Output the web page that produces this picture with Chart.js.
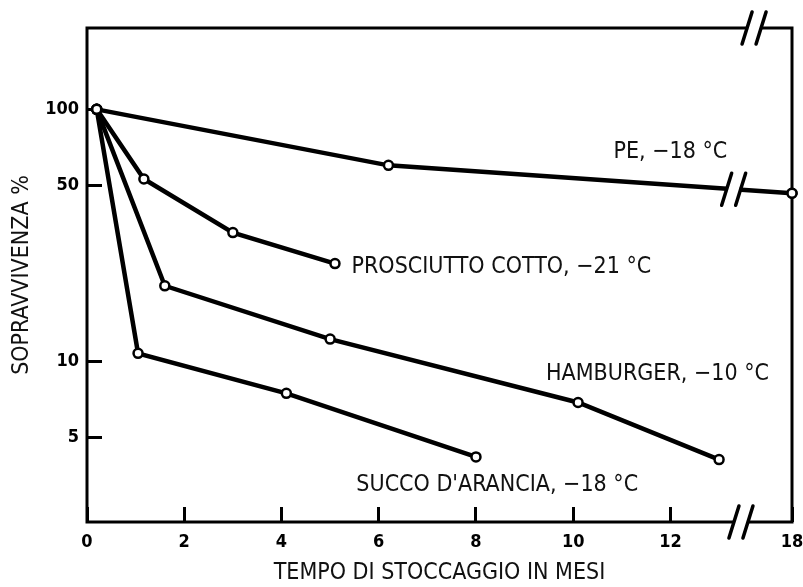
<!DOCTYPE html>
<html>
<head>
<meta charset="utf-8">
<script src="https://cdn.jsdelivr.net/npm/chart.js@4"></script>
<style>
  body { margin: 0; background: #fff; }
  canvas { display: block; }
</style>
</head>
<body>
<canvas id="survChart" width="803" height="587"></canvas>
<script>
// Survival (%) vs storage time in months, log y axis, broken x axis between 13 and 18
var peMonths = [0.2, 6.2, 18];
var peValues = [100, 60, 46.5];
var hamMonths = [0.2, 1.17, 3.0, 5.1];
var hamValues = [100, 53, 32.5, 24.5];
var burgerMonths = [0.2, 1.6, 5.0, 10.1, 13.0];
var burgerValues = [100, 20, 12.3, 6.9, 4.1];
var juiceMonths = [0.2, 1.05, 4.1, 8.0];
var juiceValues = [100, 10.8, 7.5, 4.2];

var xTickMonths = [0, 2, 4, 6, 8, 10, 12, 18];
var xTickLabels = ['0', '2', '4', '6', '8', '10', '12', '18'];
var yTickValues = [5, 10, 50, 100];
var yTickLabels = ['5', '10', '50', '100'];

var seriesLabels = ['PE, \u221218 \u00b0C', 'PROSCIUTTO COTTO, \u221221 \u00b0C', 'HAMBURGER, \u221210 \u00b0C', 'SUCCO D\'ARANCIA, \u221218 \u00b0C'];
// where each curve name sits (month, %)
var labelMonths = [10.83, 5.44, 9.44, 5.54];
var labelValues = [67.5, 23.8, 8.96, 3.25];

// months past the break are squeezed: 18 lands at 14.5 on the axis
function toAxis(m) {
    return m <= 13.5 ? m : 13.5 + (m - 13.5) / 4.5;
}

function points(months, values) {
    return months.map(function (m, i) { return {x: toAxis(m), y: values[i]}; });
}

var textFont = "'Liberation Sans Narrow', 'DejaVu Sans Condensed', 'Liberation Sans', sans-serif";
var tickFont = {family: "'DejaVu Sans Condensed', 'DejaVu Sans'", size: 18, weight: 'bold'};

function drawBreak(ctx, x, y, clearH) {
    ctx.save();
    ctx.fillStyle = '#fff';
    ctx.fillRect(x - 6, y - clearH / 2, 12, clearH);
    ctx.strokeStyle = '#000';
    ctx.lineWidth = 3.5;
    ctx.lineCap = 'round';
    [-7, 7].forEach(function (dx) {
        ctx.beginPath();
        ctx.moveTo(x + dx - 5, y + 16);
        ctx.lineTo(x + dx + 5, y - 16);
        ctx.stroke();
    });
    ctx.restore();
}

var framePlugin = {
    id: 'frame',
    beforeDatasetsDraw: function (chart) {
        var a = chart.chartArea, ctx = chart.ctx;
        ctx.save();
        ctx.strokeStyle = '#000';
        ctx.lineWidth = 3;
        ctx.strokeRect(a.left, a.top, a.right - a.left, a.bottom - a.top);
        ctx.restore();
    },
    afterDatasetsDraw: function (chart) {
        var ctx = chart.ctx, a = chart.chartArea;
        var xs = chart.scales.x, ys = chart.scales.y;
        drawBreak(ctx, xs.getPixelForValue(13.45), a.bottom, 6);
        drawBreak(ctx, xs.getPixelForValue(13.72), a.top, 6);
        var bx = xs.getPixelForValue(13.3);
        var p0 = chart.getDatasetMeta(0).data[1], p1 = chart.getDatasetMeta(0).data[2];
        var by = p0.y + (p1.y - p0.y) * (bx - p0.x) / (p1.x - p0.x);
        drawBreak(ctx, bx, by, 10);
        // redraw the last PE marker on top of the frame
        p1.draw(ctx);

        ctx.save();
        ctx.fillStyle = '#111';
        ctx.font = '23px ' + textFont;
        ctx.textBaseline = 'middle';
        seriesLabels.forEach(function (t, i) {
            ctx.fillText(t, xs.getPixelForValue(toAxis(labelMonths[i])), ys.getPixelForValue(labelValues[i]));
        });
        ctx.restore();
    }
};

function lineSet(label, months, values) {
    return {
        label: label,
        data: points(months, values),
        borderColor: '#000',
        borderWidth: 4.5,
        pointRadius: 4.5,
        pointBorderWidth: 2.5,
        pointBackgroundColor: '#fff',
        pointBorderColor: '#000',
        tension: 0,
        clip: false
    };
}

var ctx = document.getElementById('survChart').getContext('2d');
var survChart = new Chart(ctx, {
    type: 'line',
    data: {
        datasets: [
            lineSet(seriesLabels[0], peMonths, peValues),
            lineSet(seriesLabels[1], hamMonths, hamValues),
            lineSet(seriesLabels[2], burgerMonths, burgerValues),
            lineSet(seriesLabels[3], juiceMonths, juiceValues)
        ]
    },
    plugins: [framePlugin],
    options: {
        responsive: false,
        animation: false,
        layout: {padding: {left: 0, top: 28, right: 11, bottom: 0}},
        plugins: {
            legend: {display: false},
            tooltip: {enabled: false}
        },
        scales: {
            x: {
                type: 'linear',
                min: 0,
                max: 14.5,
                afterBuildTicks: function (scale) {
                    scale.ticks = xTickMonths.map(function (m) { return {value: toAxis(m)}; });
                },
                afterFit: function (scale) {
                    scale.height = 65;
                    scale.paddingLeft = 0;
                    scale.paddingRight = 0;
                },
                ticks: {
                    autoSkip: false,
                    maxRotation: 0,
                    padding: 25,
                    color: '#000',
                    font: tickFont,
                    callback: function (v) {
                        var i = xTickMonths.map(toAxis).indexOf(v);
                        return i >= 0 ? xTickLabels[i] : '';
                    }
                },
                grid: {drawOnChartArea: false, drawTicks: true, tickLength: -15, color: '#000', lineWidth: 3},
                border: {display: false},
                title: {
                    display: true,
                    text: 'TEMPO DI STOCCAGGIO IN MESI',
                    color: '#111',
                    font: {family: textFont, size: 23},
                    padding: {top: 0, bottom: 0}
                }
            },
            y: {
                type: 'logarithmic',
                min: 2.32,
                max: 210,
                afterBuildTicks: function (scale) {
                    scale.ticks = yTickValues.map(function (v) { return {value: v}; });
                },
                afterFit: function (scale) {
                    scale.width = 87;
                    scale.paddingTop = 0;
                    scale.paddingBottom = 0;
                },
                ticks: {
                    autoSkip: false,
                    padding: 23,
                    color: '#000',
                    font: tickFont,
                    callback: function (v) {
                        var i = yTickValues.indexOf(v);
                        return i >= 0 ? yTickLabels[i] : '';
                    }
                },
                grid: {drawOnChartArea: false, drawTicks: true, tickLength: -15, color: '#000', lineWidth: 3},
                border: {display: false},
                title: {
                    display: true,
                    text: 'SOPRAVVIVENZA %',
                    color: '#111',
                    font: {family: textFont, size: 23},
                    padding: {top: 8, bottom: 0}
                }
            }
        }
    }
});
</script>
</body>
</html>
